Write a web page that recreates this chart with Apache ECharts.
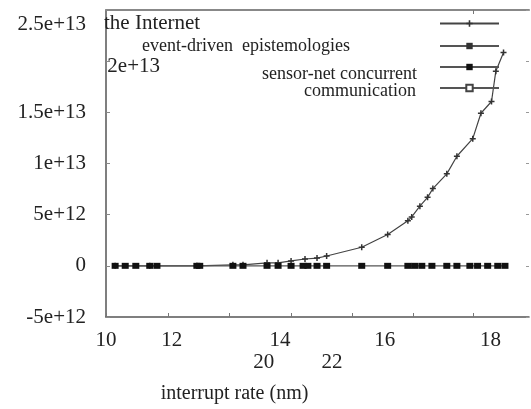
<!DOCTYPE html>
<html>
<head>
<meta charset="utf-8">
<script src="https://cdn.jsdelivr.net/npm/echarts@6/dist/echarts.min.js"></script>
<style>
  html, body { margin: 0; padding: 0; background: #fff; }
  #chart { width: 531px; height: 409px; }
</style>
</head>
<body>
<div id="chart"></div>
<script>
// series names (legend)
var seriesNames = ['the Internet', 'event-driven  epistemologies', 'sensor-net concurrent', 'communication'];

// rising curve
var internetX = [10.19, 10.91, 11.89, 12.64, 12.85, 13.35, 13.58, 13.85, 14.14, 14.39, 14.59, 15.32, 15.86,
  16.28, 16.36, 16.53, 16.69, 16.80, 17.09, 17.30, 17.63, 17.80, 18.02, 18.11, 18.27];
var internetY = [0, 0, 0, 1e11, 1e11, 2.9e11, 2.9e11, 4.8e11, 6.7e11, 7.6e11, 9.6e11, 1.82e12, 3.06e12,
  4.40e12, 4.78e12, 5.83e12, 6.69e12, 7.55e12, 8.99e12, 1.071e13, 1.243e13, 1.491e13, 1.606e13, 1.902e13, 2.084e13];

// flat series at zero
var sensorX = [10.19, 10.40, 10.62, 10.91, 11.06, 11.89, 11.95, 12.64, 12.85, 13.35, 13.58, 13.85, 14.10, 14.20,
  14.39, 14.59, 15.32, 15.86, 16.28, 16.42, 16.57, 16.78, 17.09, 17.30, 17.57, 17.73, 17.94, 18.15, 18.30];
var sensorY = [0, 0, 0, 0, 0, 0, 0, 0, 0, 0, 0, 0, 0, 0, 0, 0, 0, 0, 0, 0, 0, 0, 0, 0, 0, 0, 0, 0, 0];

// axis ticks / labels
var xTickValues = [10, 11.29, 12.56, 13.85, 15.12, 16.39, 17.63];
var xLabelValues = [10, 11.37, 13.62, 15.8, 18];
var xLabelText = ['10', '12', '14', '16', '18'];
var xLabel2Values = [13.28, 14.7];
var xLabel2Text = ['20', '22'];
var topTickValues = [17.63];
var yTickValues = [-5e12, 0, 5e12, 1e13, 1.5e13, 2e13, 2.5e13];
var yLabelValues = [-5e12, 0, 5e12, 1e13, 1.5e13, 2.36e13];
var yLabelText = ['-5e+12', '0', '5e+12', '1e+13', '1.5e+13', '2.5e+13'];
var yLabel2Values = [1.95e13];
var yLabel2Text = ['2e+13'];

var FONT = 'Liberation Serif';
var TXT = '#222';

function pick(vals, texts) {
  return function (v) {
    for (var i = 0; i < vals.length; i++) {
      if (Math.abs(vals[i] - v) < 1e-6 * Math.max(1, Math.abs(v))) return texts[i];
    }
    return '';
  };
}
function pairs(xs, ys) {
  return xs.map(function (x, i) { return [x, ys[i]]; });
}

// one legend per entry, text sits left of the line icon
function legendFor(i, top, size, start, padTop) {
  return {
    data: [seriesNames[i]],
    right: 31,
    top: top,
    align: 'right',
    padding: 0,
    itemWidth: 59,
    itemHeight: 8,
    selectedMode: false,
    formatter: '{t|{name}}',
    textStyle: {
      rich: {
        t: {
          fontFamily: FONT, fontSize: size, color: TXT, lineHeight: size + 3,
          width: 441 - 5 - start, align: 'left', padding: [padTop, 0, 0, 0]
        }
      }
    }
  };
}

var plusPath = 'path://M3,0h2v3h3v2h-3v3h-2v-3h-3v-2h3z';

var option = {
  backgroundColor: '#fff',
  animation: false,
  grid: { left: 106, top: 10, right: 2, bottom: 87, containLabel: false },
  legend: [
    legendFor(0, 13, 21, 105, 0),
    legendFor(1, 37, 18, 143, 0),
    legendFor(2, 51, 18, 263, 14),
    legendFor(3, 76, 18, 305, 6)
  ],
  xAxis: [
    {
      type: 'value', position: 'bottom', min: 10, max: 18.8,
      splitLine: { show: false },
      axisLine: { show: true, onZero: false, lineStyle: { color: '#555', width: 1.5 } },
      axisTick: { show: true, inside: true, length: 4, customValues: xTickValues, lineStyle: { color: '#777' } },
      axisLabel: {
        customValues: xLabelValues, formatter: pick(xLabelValues, xLabelText), margin: 13,
        fontFamily: FONT, fontSize: 21, color: TXT, showMinLabel: true, showMaxLabel: true
      },
      name: 'interrupt rate (nm)', nameLocation: 'middle', nameGap: 67,
      nameTextStyle: { fontFamily: FONT, fontSize: 20, color: TXT, padding: [0, 166, 0, 0] }
    },
    {
      type: 'value', position: 'bottom', min: 10, max: 18.8,
      splitLine: { show: false }, axisLine: { show: false, onZero: false }, axisTick: { show: false },
      axisLabel: {
        customValues: xLabel2Values, formatter: pick(xLabel2Values, xLabel2Text), margin: 35,
        fontFamily: FONT, fontSize: 21, color: TXT
      }
    },
    {
      type: 'value', position: 'top', min: 10, max: 18.8,
      splitLine: { show: false },
      axisLine: { show: true, onZero: false, lineStyle: { color: '#888', width: 2 } },
      axisTick: { show: true, inside: true, length: 4, customValues: topTickValues, lineStyle: { color: '#777' } },
      axisLabel: { show: false }
    }
  ],
  yAxis: [
    {
      type: 'value', position: 'left', min: -5e12, max: 2.5e13, interval: 5e12,
      splitLine: { show: false },
      axisLine: { show: true, onZero: false, lineStyle: { color: '#555', width: 1.5 } },
      axisTick: { show: true, inside: true, length: 4, customValues: yTickValues, lineStyle: { color: '#888' } },
      axisLabel: {
        customValues: yLabelValues, formatter: pick(yLabelValues, yLabelText), margin: 20,
        fontFamily: FONT, fontSize: 21, color: TXT
      }
    },
    {
      type: 'value', position: 'left', offset: -62, min: -5e12, max: 2.5e13, interval: 5e12,
      splitLine: { show: false }, axisLine: { show: false, onZero: false }, axisTick: { show: false },
      axisLabel: {
        customValues: yLabel2Values, formatter: pick(yLabel2Values, yLabel2Text), margin: 8,
        fontFamily: FONT, fontSize: 21, color: TXT
      }
    },
    {
      type: 'value', position: 'right', min: -5e12, max: 2.5e13, interval: 5e12,
      splitLine: { show: false }, axisLine: { show: false, onZero: false },
      axisTick: { show: true, inside: true, length: 3, customValues: yTickValues, lineStyle: { color: '#999' } },
      axisLabel: { show: false }
    }
  ],
  series: [
    {
      name: seriesNames[0], type: 'line', data: pairs(internetX, internetY),
      symbol: plusPath, symbolSize: 6,
      lineStyle: { color: '#444', width: 1.2 }, itemStyle: { color: '#333' }
    },
    {
      name: seriesNames[1], type: 'line', data: [],
      symbol: 'rect', symbolSize: 5,
      lineStyle: { color: '#555', width: 1.5 }, itemStyle: { color: '#333' }
    },
    {
      name: seriesNames[2], type: 'line', data: pairs(sensorX, sensorY),
      symbol: 'rect', symbolSize: [7, 6],
      lineStyle: { color: '#555', width: 1.2 }, itemStyle: { color: '#111' }
    },
    {
      name: seriesNames[3], type: 'line', data: [],
      symbol: 'emptyRect', symbolSize: 6,
      lineStyle: { color: '#555', width: 1.5 }, itemStyle: { color: '#444', borderColor: '#444' }
    }
  ]
};

var myChart = echarts.init(document.getElementById('chart'));
myChart.setOption(option);
</script>
</body>
</html>
